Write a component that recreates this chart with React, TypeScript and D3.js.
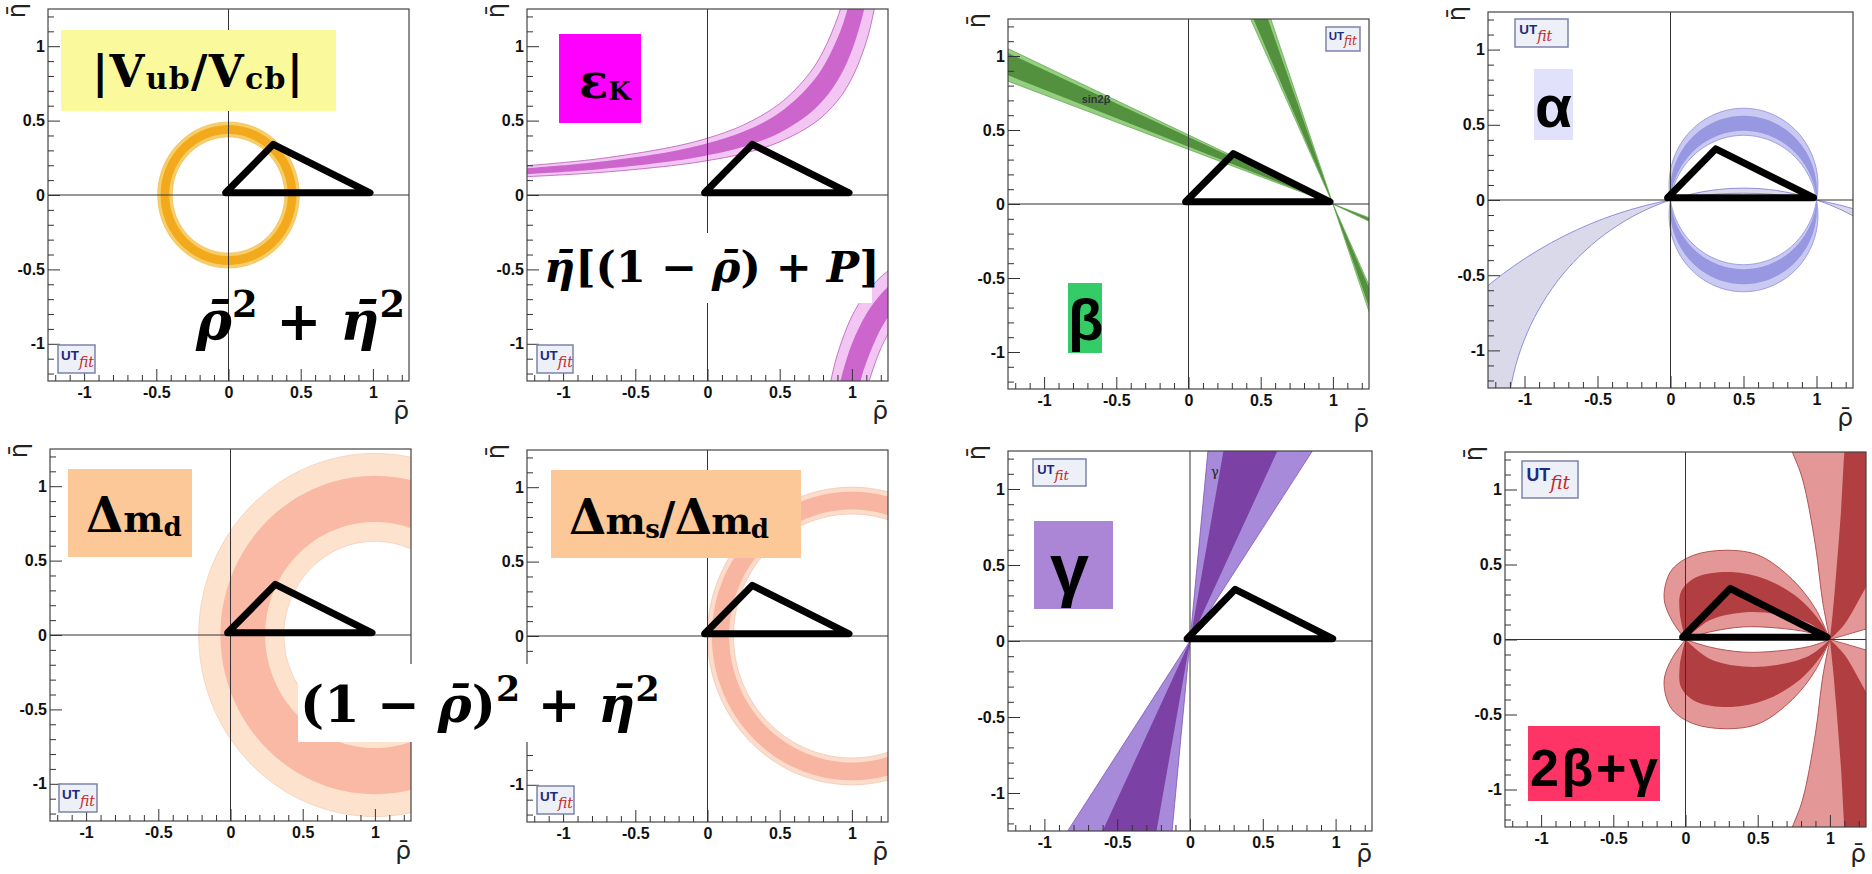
import { useEffect, useRef } from 'react';
import * as d3 from 'd3';

type Pt = [number, number];

const WIDTH = 1872;
const HEIGHT = 874;

// shared axis setup (rho-bar horizontally, eta-bar vertically)
const axisDomain: Pt = [-1.25, 1.25];
const majorTicks = [-1, -0.5, 0, 0.5, 1];
const tickLabels = ['-1', '-0.5', '0', '0.5', '1'];
const minorTicks = [-1.2, -1.1, -0.9, -0.8, -0.7, -0.6, -0.4, -0.3, -0.2, -0.1,
  0.1, 0.2, 0.3, 0.4, 0.6, 0.7, 0.8, 0.9, 1.1, 1.2];

// unitarity triangle drawn over every panel
const triangle: Pt[] = [[-0.02, 0.015], [0.31, 0.34], [0.98, 0.015]];

// |Vub/Vcb|: ring round the origin (radii)
const vubCentre: Pt = [0, 0];
const vubLight = [0.39, 0.49];
const vubDark = [0.41, 0.47];

// eps_K: hyperbolic band, boundary points (rho, eta)
const epsLightLow: Pt[] = [[-1.35, 0.118], [-1.25, 0.123], [-0.75, 0.151], [-0.25, 0.197], [0, 0.231], [0.25, 0.279], [0.5, 0.357], [0.75, 0.491], [0.9, 0.633], [1.0, 0.785], [1.1, 1.03], [1.155, 1.25], [1.2, 1.5]];
const epsLightHigh: Pt[] = [[-1.35, 0.19], [-1.25, 0.197], [-0.75, 0.244], [-0.25, 0.322], [0, 0.382], [0.25, 0.471], [0.5, 0.614], [0.7, 0.81], [0.8, 0.964], [0.9, 1.19], [0.95, 1.35]];
const epsDarkLow: Pt[] = [[-1.35, 0.135], [-1.25, 0.14], [-0.75, 0.173], [-0.25, 0.226], [0, 0.267], [0.25, 0.325], [0.5, 0.418], [0.75, 0.585], [0.9, 0.768], [1.0, 0.971], [1.085, 1.25], [1.15, 1.61]];
const epsDarkHigh: Pt[] = [[-1.35, 0.174], [-1.25, 0.18], [-0.75, 0.223], [-0.25, 0.293], [0, 0.348], [0.25, 0.427], [0.5, 0.554], [0.75, 0.788], [0.9, 1.054], [0.97, 1.25], [1.02, 1.45]];
const epsLowLightA: Pt[] = [[0.82, -1.43], [0.854, -1.25], [0.9, -1.07], [1.0, -0.814], [1.1, -0.657], [1.2, -0.551], [1.3, -0.474]];
const epsLowLightB: Pt[] = [[1.08, -1.4], [1.12, -1.25], [1.2, -1.032], [1.3, -0.847]];
const epsLowDarkA: Pt[] = [[0.88, -1.43], [0.92, -1.25], [1.0, -1.0], [1.1, -0.8], [1.2, -0.667], [1.3, -0.571]];
const epsLowDarkB: Pt[] = [[1.0, -1.5], [1.06, -1.25], [1.1, -1.126], [1.2, -0.901], [1.3, -0.752]];

// sin2beta: pivot (1,0); shallow band = eta at rho=-1.25, steep band = rho at eta=1.25
const betaPivot: Pt = [1, 0];
const betaShallowLight = [0.83, 1.05];
const betaShallowDark = [0.87, 1.02];
const betaSteepLight = [0.43, 0.57];
const betaSteepDark = [0.45, 0.55];

// alpha: heights of the arcs over the base (0,0)-(1,0)
const alphaLight = [0.43, 0.61];
const alphaDark = [0.46, 0.56];
const alphaAmbiguous = [0.045, 0.079];

// Delta m_d and Delta m_s / Delta m_d: rings round (1,0)
const dmdCentre: Pt = [1, 0];
const dmdLight = [0.63, 1.22];
const dmdDark = [0.76, 1.07];
const dmsCentre: Pt = [1, 0];
const dmsLight = [0.82, 1.0];
const dmsDark = [0.85, 0.97];

// gamma: rho where the wedge edges cross |eta| = 1.25
const gammaLight = [0.123, 0.84];
const gammaDark = [0.23, 0.6];

// 2beta+gamma lobes, upper half (lower half is the mirror)
const lobeLightOuter: Pt[] = [[0, 0], [-0.09, 0.12], [-0.145, 0.25], [-0.14, 0.36], [-0.09, 0.47], [0.05, 0.56], [0.28, 0.595], [0.51, 0.56], [0.74, 0.4], [0.9, 0.205], [1, 0]];
const lobeLightInner: Pt[] = [[1, 0], [0.86, 0.046], [0.63, 0.077], [0.4, 0.084], [0.166, 0.05], [0, 0]];
const lobeDarkOuter: Pt[] = [[0, 0], [-0.04, 0.18], [-0.03, 0.32], [0.074, 0.415], [0.316, 0.45], [0.56, 0.4], [0.79, 0.27], [0.95, 0.095], [1, 0]];
const lobeDarkInner: Pt[] = [[1, 0], [0.86, 0.106], [0.63, 0.17], [0.4, 0.18], [0.166, 0.128], [0, 0]];
const sideLightLeft: Pt[] = [[1, 0], [0.95, 0.25], [0.9, 0.625], [0.81, 1.07], [0.74, 1.25], [0.7, 1.35]];
const sideLightRight: Pt[] = [[1.45, 0.13], [1.25, 0.07], [1, 0]];
const sideDarkLeft: Pt[] = [[1, 0], [1.02, 0.18], [1.04, 0.4], [1.076, 0.845], [1.1, 1.25], [1.11, 1.35]];
const sideDarkRight: Pt[] = [[1.45, 0.7], [1.25, 0.35], [1.1, 0.1], [1, 0]];

// page layout of the eight frames
const frames = [
  { l: 48, t: 9, r: 409, b: 381 },
  { l: 527, t: 9, r: 888, b: 381 },
  { l: 1008, t: 19, r: 1369, b: 389 },
  { l: 1488, t: 12, r: 1853, b: 388 },
  { l: 50, t: 449, r: 411, b: 821 },
  { l: 527, t: 450, r: 888, b: 822 },
  { l: 1008, t: 451, r: 1372, b: 831 },
  { l: 1505, t: 452, r: 1866, b: 827 },
];

const logos = [
  { x: 58, y: 345, w: 37, h: 28 }, { x: 537, y: 345, w: 36, h: 28 },
  { x: 1326, y: 27, w: 34, h: 24 }, { x: 1515, y: 19, w: 53, h: 28 },
  { x: 59, y: 784, w: 38, h: 28 }, { x: 537, y: 786, w: 37, h: 28 },
  { x: 1033, y: 459, w: 53, h: 27 }, { x: 1522, y: 461, w: 56, h: 37 },
];

const SERIF = 'DejaVu Serif, serif';
const SANS = 'Liberation Sans, Arial, sans-serif';
const TITLE = 'DejaVu Sans, sans-serif';

export default function App() {
  const ref = useRef<SVGSVGElement>(null);

  useEffect(() => {
    const svg = d3.select(ref.current);
    svg.selectAll('*').remove();
    svg.append('rect').attr('width', WIDTH).attr('height', HEIGHT).attr('fill', '#fff');

    const panels = frames.map((f, i) => {
      const x = d3.scaleLinear().domain(axisDomain).range([f.l, f.r]);
      const y = d3.scaleLinear().domain(axisDomain).range([f.b, f.t]);
      svg.append('clipPath').attr('id', `clip${i}`).append('rect')
        .attr('x', f.l).attr('y', f.t).attr('width', f.r - f.l).attr('height', f.b - f.t);
      const plot = svg.append('g').attr('clip-path', `url(#clip${i})`);
      const over = svg.append('g');
      const line = d3.line<Pt>().x(d => x(d[0])).y(d => y(d[1]));
      const smooth = d3.line<Pt>().x(d => x(d[0])).y(d => y(d[1])).curve(d3.curveCatmullRom.alpha(0.5));
      return { f, x, y, plot, over, line, smooth };
    });

    const join = (gen: d3.Line<Pt>, parts: Pt[][]) =>
      parts.map((p, k) => { const s = gen(p) || ''; return k === 0 ? s : 'L' + s.slice(1); }).join('') + 'Z';
    const mirror = (pts: Pt[]): Pt[] => pts.map(([a, b]) => [a, -b] as Pt);
    const circle = (c: Pt, r: number): Pt[] =>
      d3.range(0, 362, 2).map(a => [c[0] + r * Math.cos(a * Math.PI / 180), c[1] + r * Math.sin(a * Math.PI / 180)] as Pt);
    const ring = (p: any, c: Pt, radii: number[], fill: string, stroke: string) => {
      p.plot.append('path')
        .attr('d', (p.line(circle(c, radii[1])) || '') + 'Z' + (p.line(circle(c, radii[0])) || '') + 'Z')
        .attr('fill', fill).attr('fill-rule', 'evenodd').attr('stroke', stroke).attr('stroke-width', 0.8);
    };
    // arc of a circle through (0,0) and (1,0) reaching height t
    const arc = (t: number): Pt[] => {
      const k = (t * t - 0.25) / (2 * t);
      const r = t - k;
      const a1 = Math.atan2(-k, 0.5);
      let a2 = Math.atan2(-k, -0.5);
      if (a2 < a1) a2 += 2 * Math.PI;
      return d3.range(0, 121).map(i => {
        const a = a1 + (a2 - a1) * i / 120;
        return [0.5 + r * Math.cos(a), k + r * Math.sin(a)] as Pt;
      });
    };
    // double-sided wedge through a pivot
    const wedge = (p: any, pivot: Pt, e1: Pt, e2: Pt, fill: string, stroke: string) => {
      const far = (e: Pt, s: number): Pt => [pivot[0] + s * 4 * (e[0] - pivot[0]), pivot[1] + s * 4 * (e[1] - pivot[1])];
      const d = join(p.line, [[far(e1, 1), far(e2, 1), pivot, far(e1, -1), far(e2, -1), pivot]]);
      p.plot.append('path').attr('d', d).attr('fill', fill).attr('stroke', stroke).attr('stroke-width', 0.8);
    };
    const band = (p: any, a: Pt[], b: Pt[], fill: string, stroke: string) => {
      p.plot.append('path').attr('d', join(p.smooth, [a, b.slice().reverse()]))
        .attr('fill', fill).attr('stroke', stroke).attr('stroke-width', 0.8);
    };

    // 1: |Vub/Vcb|
    ring(panels[0], vubCentre, vubLight, '#f8cd6c', '#f0c050');
    ring(panels[0], vubCentre, vubDark, '#f2aa1c', 'none');

    // 2: eps_K
    band(panels[1], epsLightLow, epsLightHigh, '#f3c5f3', '#b85cb8');
    band(panels[1], epsDarkLow, epsDarkHigh, '#cc66cc', 'none');
    band(panels[1], epsLowLightA, epsLowLightB, '#f3c5f3', '#b85cb8');
    band(panels[1], epsLowDarkA, epsLowDarkB, '#cc66cc', 'none');

    // 3: sin2beta
    const top = axisDomain[1];
    const left = axisDomain[0];
    wedge(panels[2], betaPivot, [left, betaShallowLight[0]], [left, betaShallowLight[1]], '#93cf7e', '#6aa858');
    wedge(panels[2], betaPivot, [left, betaShallowDark[0]], [left, betaShallowDark[1]], '#53913f', 'none');
    wedge(panels[2], betaPivot, [betaSteepLight[0], top], [betaSteepLight[1], top], '#93cf7e', '#6aa858');
    wedge(panels[2], betaPivot, [betaSteepDark[0], top], [betaSteepDark[1], top], '#53913f', 'none');

    // 4: alpha
    {
      const p = panels[3];
      const amb = alphaAmbiguous.map(t => {
        const k = (t * t - 0.25) / (2 * t);
        return (p.line(circle([0.5, k], t - k)) || '') + 'Z';
      }).join('');
      p.plot.append('path').attr('d', amb).attr('fill', '#d9d9e9').attr('fill-rule', 'evenodd')
        .attr('stroke', '#8484d8').attr('stroke-width', 0.9);
      const lens = (range: number[], fill: string, stroke: string) => {
        const up = [arc(range[1]), arc(range[0]).slice().reverse()];
        p.plot.append('path').attr('d', join(p.line, up)).attr('fill', fill).attr('stroke', stroke).attr('stroke-width', 0.8);
        p.plot.append('path').attr('d', join(p.line, up.map(mirror))).attr('fill', fill).attr('stroke', stroke).attr('stroke-width', 0.8);
      };
      lens(alphaLight, '#c9c9f1', '#8c8cde');
      lens(alphaDark, '#9797e2', 'none');
    }

    // 5, 6: Delta m
    ring(panels[4], dmdCentre, dmdLight, '#fde3cd', '#f6cdb6');
    ring(panels[4], dmdCentre, dmdDark, '#fab9a5', 'none');
    ring(panels[5], dmsCentre, dmsLight, '#fcdccb', '#f4c6b2');
    ring(panels[5], dmsCentre, dmsDark, '#f8b6a2', 'none');

    // 7: gamma
    wedge(panels[6], [0, 0], [gammaLight[0], top], [gammaLight[1], top], '#a78ad9', '#7d55b5');
    wedge(panels[6], [0, 0], [gammaDark[0], top], [gammaDark[1], top], '#7c41a4', 'none');

    // 8: 2beta+gamma
    {
      const p = panels[7];
      const far = axisDomain[1] + 0.2;
      const lobe = (a: Pt[], b: Pt[], fill: string, stroke: string) => {
        [false, true].forEach(m => {
          const pa = m ? mirror(a) : a;
          const pb = m ? mirror(b) : b;
          p.plot.append('path').attr('d', join(p.smooth, [pa, pb]))
            .attr('fill', fill).attr('stroke', stroke).attr('stroke-width', 0.9);
        });
      };
      const side = (a: Pt[], b: Pt[], fill: string, stroke: string) => {
        [1, -1].forEach(s => {
          const pa = s < 0 ? mirror(a) : a;
          const pb = s < 0 ? mirror(b) : b;
          const corner: Pt[] = [[pa[pa.length - 1][0], s * far], [far + 0.2, s * far], [far + 0.2, pb[0][1]]];
          const d = join(p.smooth, [pa]).replace(/Z$/, '') + join(p.line, [corner]).replace(/^M/, 'L').replace(/Z$/, '')
            + join(p.smooth, [pb]).replace(/^M/, 'L');
          p.plot.append('path').attr('d', d).attr('fill', fill).attr('stroke', stroke).attr('stroke-width', 0.9);
        });
      };
      side(sideLightLeft, sideLightRight, '#e39797', '#a94848');
      side(sideDarkLeft, sideDarkRight, '#b13e40', 'none');
      lobe(lobeLightOuter, lobeLightInner, '#e39797', '#a94848');
      lobe(lobeDarkOuter, lobeDarkInner, '#b13e40', 'none');
    }

    // axes, frames, crosshairs, triangle, logos
    panels.forEach((p, i) => {
      const { f, x, y, over } = p;
      over.append('line').attr('x1', x(0)).attr('x2', x(0)).attr('y1', f.t).attr('y2', f.b).attr('stroke', '#333').attr('stroke-width', 1);
      over.append('line').attr('y1', y(0)).attr('y2', y(0)).attr('x1', f.l).attr('x2', f.r).attr('stroke', '#333').attr('stroke-width', 1);
      over.append('rect').attr('x', f.l).attr('y', f.t).attr('width', f.r - f.l).attr('height', f.b - f.t)
        .attr('fill', 'none').attr('stroke', '#444').attr('stroke-width', 1.2);

      const styleAxis = (g: any) => {
        g.select('.domain').remove();
        g.selectAll('line').attr('stroke', '#333');
        g.selectAll('text').attr('font-family', SANS).attr('font-size', 16).attr('font-weight', 'bold').attr('fill', '#111');
      };
      // in the Delta ms panel the -0.5 label sits under the formula box
      const yTicks = i === 5 ? majorTicks.filter(v => v !== -0.5) : majorTicks;
      over.append('g').attr('transform', `translate(0,${f.b})`)
        .call(d3.axisBottom(x).tickValues(majorTicks).tickFormat((_, k) => tickLabels[k]).tickSizeInner(-12).tickSizeOuter(0).tickPadding(6))
        .call(styleAxis);
      over.append('g').attr('transform', `translate(0,${f.b})`)
        .call(d3.axisBottom(x).tickValues(minorTicks).tickFormat(() => '').tickSizeInner(-6).tickSizeOuter(0))
        .call(styleAxis);
      over.append('g').attr('transform', `translate(${f.l},0)`)
        .call(d3.axisLeft(y).tickValues(yTicks).tickFormat(d => tickLabels[majorTicks.indexOf(+d)]).tickSizeInner(-12).tickSizeOuter(0).tickPadding(3))
        .call(styleAxis);
      over.append('g').attr('transform', `translate(${f.l},0)`)
        .call(d3.axisLeft(y).tickValues(minorTicks).tickFormat(() => '').tickSizeInner(-6).tickSizeOuter(0))
        .call(styleAxis);

      over.append('text').attr('transform', `translate(${f.l - 23},${f.t - 6}) rotate(-90)`)
        .attr('text-anchor', 'end').attr('font-family', TITLE).attr('font-size', 24).attr('fill', '#222').text('\u03b7\u0304');
      over.append('text').attr('x', f.r).attr('y', Math.min(f.b + 38, 862)).attr('text-anchor', 'end')
        .attr('font-family', TITLE).attr('font-size', 25).attr('fill', '#222').text('\u03c1\u0304');

      over.append('path').attr('d', p.line(triangle) + 'Z').attr('fill', 'none')
        .attr('stroke', '#000').attr('stroke-width', 7).attr('stroke-linejoin', 'round').attr('stroke-linecap', 'round');

      const L = logos[i];
      const lg = over.append('g');
      lg.append('rect').attr('x', L.x).attr('y', L.y).attr('width', L.w).attr('height', L.h)
        .attr('fill', '#eef0f8').attr('stroke', '#7b82ab').attr('stroke-width', 1.5);
      const t = lg.append('text').attr('x', L.x + L.w * 0.08).attr('y', L.y + L.h * 0.55);
      t.append('tspan').attr('font-family', SANS).attr('font-weight', 'bold').attr('font-size', L.h * 0.48).attr('fill', '#1e2a7e').text('UT');
      t.append('tspan').attr('dy', L.h * 0.22).attr('font-family', SERIF).attr('font-style', 'italic').attr('font-size', L.h * 0.5).attr('fill', '#c62828').text('fit');
    });

    // small in-plot labels
    svg.append('text').attr('x', 1096).attr('y', 103).attr('text-anchor', 'middle').attr('font-family', SANS)
      .attr('font-size', 11).attr('font-weight', 'bold').attr('fill', '#333').text('sin2\u03b2');
    svg.append('text').attr('x', 1215).attr('y', 476).attr('text-anchor', 'middle').attr('font-family', SERIF)
      .attr('font-size', 13).attr('fill', '#222').text('\u03b3');

    // formula boxes
    const top2 = svg.append('g');
    top2.append('rect').attr('x', 542).attr('y', 233).attr('width', 330).attr('height', 70).attr('fill', '#fff');
    top2.append('rect').attr('x', 298).attr('y', 664).attr('width', 374).attr('height', 78).attr('fill', '#fff');

    const formula = (xp: number, yp: number, size: number, parts: [string, string][], width?: number) => {
      const t = top2.append('text').attr('x', xp).attr('y', yp).attr('font-family', SERIF)
        .attr('font-weight', 'bold').attr('font-size', size).attr('fill', '#000');
      if (width) t.attr('textLength', width);
      let up = false;
      parts.forEach(([kind, s]) => {
        const sp = t.append('tspan').text(s);
        if (kind === 'i') sp.attr('font-style', 'italic');
        if (kind === 's') { sp.attr('dy', -size * 0.42).attr('font-size', size * 0.68); up = true; }
        else if (up) { sp.attr('dy', size * 0.42); up = false; }
      });
    };
    formula(196, 340, 54, [['i', '\u03c1\u0304'], ['s', '2'], ['n', ' + '], ['i', '\u03b7\u0304'], ['s', '2']]);
    formula(544, 282, 43, [['i', '\u03b7\u0304'], ['n', '[(1 \u2212 '], ['i', '\u03c1\u0304'], ['n', ') + '], ['i', 'P'], ['n', ']']]);
    formula(300, 722, 51, [['n', '(1 \u2212 '], ['i', '\u03c1\u0304'], ['n', ')'], ['s', '2'], ['n', ' + '], ['i', '\u03b7\u0304'], ['s', '2']]);

    // coloured constraint labels
    const boxes = [
      { x: 61, y: 30, w: 275, h: 81, fill: '#fafa9c' },
      { x: 559, y: 34, w: 82, h: 89, fill: '#ff00ff' },
      { x: 1068, y: 283, w: 34, h: 70, fill: '#33cc66' },
      { x: 1534, y: 69, w: 39, h: 71, fill: '#e1e1fc' },
      { x: 68, y: 469, w: 124, h: 88, fill: '#fdc898' },
      { x: 551, y: 470, w: 250, h: 88, fill: '#fdc898' },
      { x: 1034, y: 521, w: 79, h: 88, fill: '#ab85d6' },
      { x: 1528, y: 726, w: 132, h: 75, fill: '#fe3366' },
    ];
    boxes.forEach(b => top2.append('rect').attr('x', b.x).attr('y', b.y).attr('width', b.w).attr('height', b.h).attr('fill', b.fill));

    const label = (xp: number, yp: number, family: string, parts: [string, number, number][], width?: number) => {
      const t = top2.append('text').attr('x', xp).attr('y', yp).attr('font-family', family)
        .attr('font-weight', 'bold').attr('fill', '#000');
      if (width) t.attr('textLength', width);
      parts.forEach(([s, size, dy]) => {
        const sp = t.append('tspan').attr('font-size', size).text(s);
        if (dy) sp.attr('dy', dy);
      });
    };
    label(92, 87, SERIF, [['|V', 45, 0], ['ub', 30, 2], ['/V', 45, -2], ['cb', 30, 2], ['|', 45, -2]], 211);
    label(579, 98, SERIF, [['\u03b5', 48, 0], ['K', 26, 2]]);
    label(86, 532, SERIF, [['\u0394', 48, 0], ['m', 38, 0], ['d', 26, 4]]);
    label(569, 534, SERIF, [['\u0394', 48, 0], ['m', 38, 0], ['s', 26, 4], ['/', 44, -4], ['\u0394', 48, 0], ['m', 38, 0], ['d', 26, 4]], 200);
    label(1068, 340, SANS, [['\u03b2', 58, 0]]);
    label(1535, 127, SANS, [['\u03b1', 60, 0]]);
    label(1050, 593, SANS, [['\u03b3', 70, 0]]);
    label(1530, 786, SANS, [['2\u03b2+\u03b3', 52, 0]], 128);
  }, []);

  return <svg ref={ref} width={WIDTH} height={HEIGHT} style={{ position: 'absolute', left: 0, top: 0 }} />;
}
